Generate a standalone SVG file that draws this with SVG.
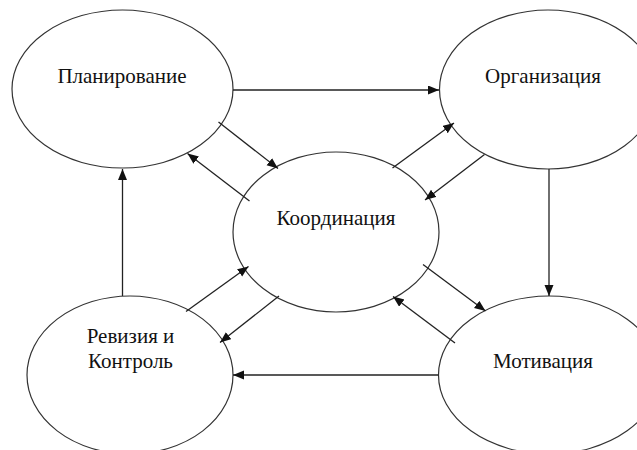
<svg xmlns="http://www.w3.org/2000/svg" width="637" height="450" viewBox="0 0 637 450">
<defs>
<marker id="ah" markerUnits="userSpaceOnUse" markerWidth="12" markerHeight="10" refX="11" refY="4.5" orient="auto">
<path d="M0,0 L11,4.5 L0,9 Z" fill="#111"/>
</marker>
<style>
.n{fill:#fff;stroke:#333;stroke-width:1.2}
.t{font-family:"Liberation Serif","Times New Roman",serif;font-size:21px;fill:#111;text-anchor:middle}
.c line{stroke:#222;stroke-width:1.3;marker-end:url(#ah)}
.c line.p{marker-end:none}
</style>
</defs>
<rect width="637" height="450" fill="#fff"/>
<g id="planning"><ellipse class="n" cx="122.5" cy="89" rx="110.5" ry="79"/><text class="t" x="122" y="83">Планирование</text></g>
<g id="organization"><ellipse class="n" cx="548" cy="89.5" rx="108.5" ry="79.5"/><text class="t" x="543" y="83">Организация</text></g>
<g id="coordination"><ellipse class="n" cx="336" cy="232" rx="103" ry="80"/><text class="t" x="336" y="225">Координация</text></g>
<g id="revision"><ellipse class="n" cx="130" cy="375" rx="103" ry="79"/><text class="t" x="130.5" y="343">Ревизия и</text><text class="t" x="130.5" y="368">Контроль</text></g>
<g id="motivation"><ellipse class="n" cx="549" cy="375" rx="110.5" ry="79"/><text class="t" x="543" y="368">Мотивация</text></g>
<g id="connectors" class="c">
<line x1="233" y1="90" x2="439" y2="90"/>
<line x1="549" y1="169" x2="549" y2="296"/>
<line x1="438.5" y1="375" x2="233" y2="375"/>
<line x1="122.5" y1="296" x2="122.5" y2="169"/>
<line x1="218.5" y1="122" x2="278" y2="168.5"/>
<line x1="249.5" y1="201" x2="187.5" y2="153.5"/>
<line x1="392.5" y1="168" x2="454" y2="123"/>
<line x1="484.5" y1="154.5" x2="425" y2="200"/>
<line x1="423" y1="264.5" x2="485.5" y2="311"/>
<line x1="455" y1="343" x2="393" y2="296.5"/>
<line x1="186" y1="311.5" x2="248.5" y2="266.5"/>
<line x1="279" y1="296" x2="220" y2="342.5"/>
</g>
</svg>
